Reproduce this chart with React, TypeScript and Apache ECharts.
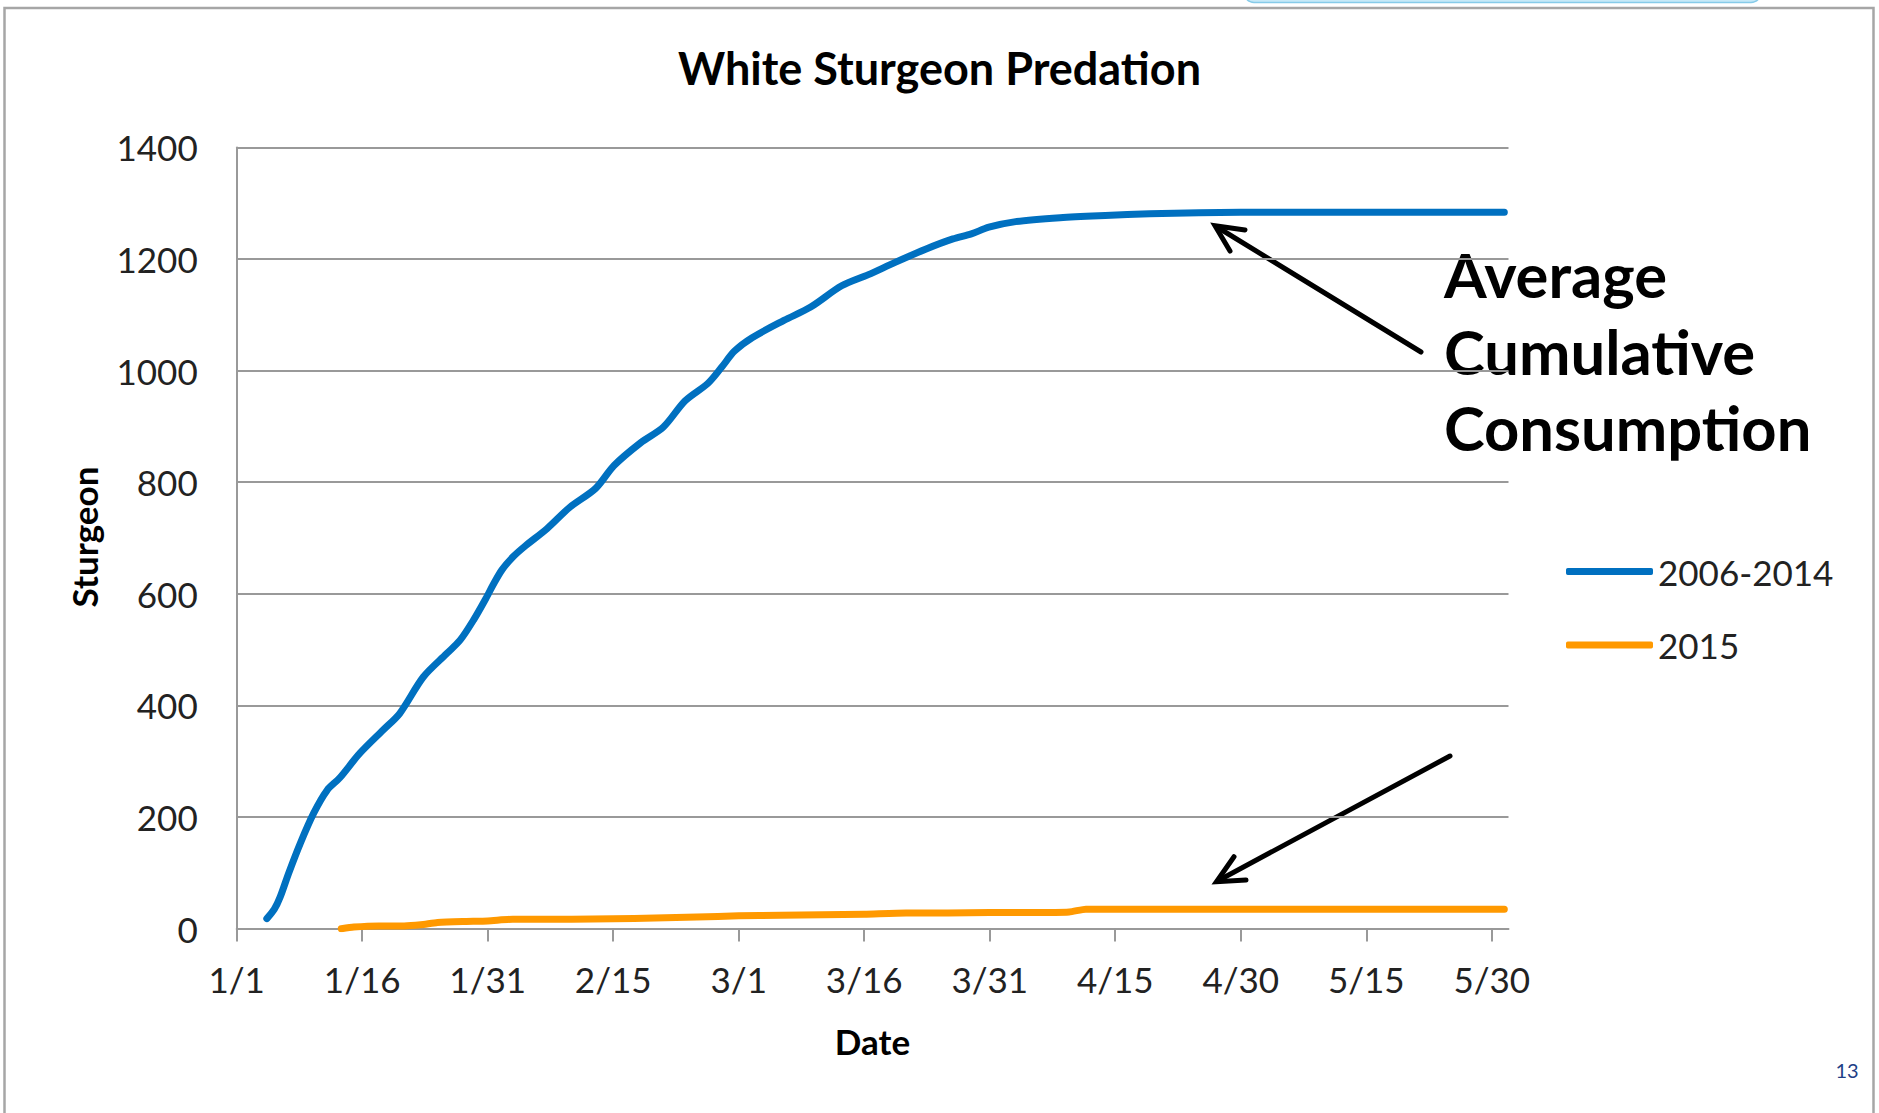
import React, { useEffect, useRef } from 'react';
import * as echarts from 'echarts';

// X axis: days since Jan 1 (leap year), labelled every 15 days
const xTickDays = [0, 15, 30, 45, 60, 75, 90, 105, 120, 135, 150];
const xTickLabels = ['1/1', '1/16', '1/31', '2/15', '3/1', '3/16', '3/31', '4/15', '4/30', '5/15', '5/30'];

// Series 2006-2014 (average cumulative consumption)
const blueDays = [3.6, 4.5, 5.2, 6.2, 7.6, 9.2, 10.8, 12.3, 14.7, 17.5, 19.5, 22.3, 25.1, 26.7, 28.3, 29.9, 30.6, 31.7, 33, 34.5, 37.1, 39.8, 42.9, 45.1, 48.3, 51, 53.6, 56.3, 57.9, 59.5, 61.6, 65.4, 68.6, 72.3, 75.5, 78.7, 82.4, 85.6, 87.8, 89.9, 93.1, 98.4, 103.8, 109.1, 115, 125, 140, 151.5];
const blueValues = [18, 35, 57, 99, 153, 207, 248, 270, 314, 356, 386, 451, 493, 517, 553, 595, 615, 643, 666, 686, 717, 755, 789, 830, 871, 899, 946, 977, 1005, 1035, 1059, 1090, 1114, 1152, 1172, 1194, 1218, 1236, 1245, 1257, 1267, 1274, 1278, 1281, 1283, 1284, 1284, 1284];

// Series 2015
const orangeDays = [12.5, 14, 17, 20, 22, 24, 27, 30, 33, 40, 45, 50, 55, 60, 65, 70, 75, 80, 85, 90, 95, 99.5, 101.5, 110, 130, 151.5];
const orangeValues = [0, 3, 5, 5, 7, 11, 13, 14, 17, 17, 18, 19, 21, 23, 24, 25, 26, 28, 28, 29, 29, 30, 35, 35, 35, 35];

const seriesNames = ['2006-2014', '2015'];
const seriesColors = ['#0070C0', '#FF9900'];

const FONT = 'Lato, "Open Sans", sans-serif';

export default function App() {
  const ref = useRef<HTMLDivElement>(null);
  useEffect(() => {
    document.body.style.margin = '0';
    const chart = echarts.init(ref.current!, null, { renderer: 'svg', width: 1879, height: 1113 });
    const bluePairs = blueDays.map((d, i) => [d, blueValues[i]]);
    const orangePairs = orangeDays.map((d, i) => [d, orangeValues[i]]);
    const txt = (text: string, x: number, y: number, size: number, bold: boolean, extra: any = {}) => ({
      type: 'text',
      x,
      y,
      silent: true,
      ...extra,
      style: {
        text,
        fontFamily: FONT,
        fontSize: size,
        fontWeight: bold ? 'bold' : 'normal',
        fill: extra.fill || '#000',
        align: extra.align || 'center',
        verticalAlign: 'middle',
        textAlign: extra.align || 'center',
        textVerticalAlign: 'middle',
      },
    });
    chart.setOption({
      animation: false,
      backgroundColor: '#fff',
      textStyle: { fontFamily: FONT },
      grid: { left: 236.7, top: 147.4, width: 1271.8, height: 781.3 },
      xAxis: {
        type: 'value',
        min: 0,
        max: 152,
        interval: 15,
        axisLine: { show: true, onZero: false, lineStyle: { color: '#999', width: 2 } },
        axisTick: { show: true, length: 12.7, customValues: xTickDays, lineStyle: { color: '#999', width: 2 } },
        axisLabel: {
          customValues: xTickDays,
          formatter: (v: number) => {
            const i = xTickDays.indexOf(v);
            return i >= 0 ? xTickLabels[i] : '';
          },
          fontSize: 35,
          color: '#222',
          margin: 33,
          fontFamily: FONT,
        },
        splitLine: { show: false },
      },
      yAxis: {
        type: 'value',
        min: 0,
        max: 1400,
        interval: 200,
        axisLine: { show: true, lineStyle: { color: '#999', width: 2 } },
        axisTick: { show: false },
        axisLabel: {
          fontSize: 35,
          color: '#222',
          margin: 39,
          fontFamily: FONT,
          formatter: (v: number) => String(v),
        },
        splitLine: { show: true, lineStyle: { color: '#999', width: 2 } },
      },
      legend: {
        orient: 'vertical',
        left: 1561,
        top: 549,
        itemWidth: 87,
        itemHeight: 7,
        itemGap: 38.4,
        icon: 'roundRect',
        textStyle: { fontSize: 35, color: '#222', fontFamily: FONT },
        data: seriesNames,
      },
      series: [
        {
          name: seriesNames[0],
          type: 'line',
          data: bluePairs,
          symbol: 'none',
          smooth: 0.3,
          lineStyle: { color: seriesColors[0], width: 7, cap: 'round', join: 'round' },
          itemStyle: { color: seriesColors[0] },
        },
        {
          name: seriesNames[1],
          type: 'line',
          data: orangePairs,
          symbol: 'none',
          smooth: 0.2,
          lineStyle: { color: seriesColors[1], width: 7, cap: 'round', join: 'round' },
          itemStyle: { color: seriesColors[1] },
        },
      ],
      graphic: [
        {
          type: 'rect',
          silent: true,
          shape: { x: 1244, y: -20, width: 517, height: 22.5, r: [0, 0, 10, 10] },
          style: { fill: '#c6e9f7', stroke: '#86cbe9', lineWidth: 1.5 },
        },
        {
          type: 'rect',
          silent: true,
          shape: { x: 4.5, y: 8, width: 1869, height: 1200 },
          style: { fill: 'none', stroke: '#a6a6a6', lineWidth: 2.5 },
        },
        txt('White Sturgeon Predation', 939.5, 67.5, 45, true),
        txt('Date', 872.5, 1041, 35, true),
        txt('Sturgeon', 84, 537, 35, true, { rotation: Math.PI / 2 }),
        txt('Average', 1444, 274, 61.5, true, { align: 'left' }),
        txt('Cumulative', 1444, 351, 61.5, true, { align: 'left' }),
        txt('Consumption', 1444, 427, 61.5, true, { align: 'left' }),
        txt('13', 1847, 1070, 20, false, { fill: '#1F3F87' }),
        {
          type: 'line',
          silent: true,
          shape: { x1: 1421, y1: 352, x2: 1217, y2: 227 },
          style: { stroke: '#000', lineWidth: 5, lineCap: 'round' },
        },
        {
          type: 'polyline',
          silent: true,
          shape: { points: [[1245, 230], [1215, 225.7], [1230, 251]] },
          style: { stroke: '#000', lineWidth: 5, fill: 'none', lineCap: 'round', lineJoin: 'miter' },
        },
        {
          type: 'line',
          silent: true,
          shape: { x1: 1450, y1: 756, x2: 1218, y2: 880.7 },
          style: { stroke: '#000', lineWidth: 5, lineCap: 'round' },
        },
        {
          type: 'polyline',
          silent: true,
          shape: { points: [[1234, 856.7], [1216.5, 881.7], [1246, 880]] },
          style: { stroke: '#000', lineWidth: 5, fill: 'none', lineCap: 'round', lineJoin: 'miter' },
        },
      ],
    });
    return () => chart.dispose();
  }, []);
  return (
    <div
      ref={ref}
      style={{ position: 'absolute', left: 0, top: 0, width: 1879, height: 1113, background: '#fff' }}
    />
  );
}
